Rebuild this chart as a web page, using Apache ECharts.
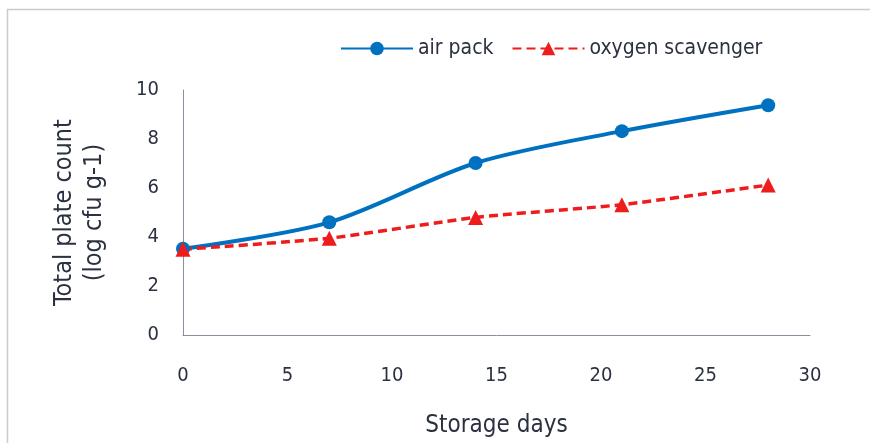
<!DOCTYPE html>
<html><head><meta charset="utf-8">
<script src="https://cdn.jsdelivr.net/npm/echarts@6/dist/echarts.min.js"></script>
<style>html,body{margin:0;padding:0;background:#fff}#c{width:870px;height:443px}</style>
</head><body><div id="c"></div>
<script>
const days = [0, 7, 14, 21, 28];
const airPack = [3.52, 4.6, 7.02, 8.32, 9.38];
const oxygenScavenger = [3.5, 3.95, 4.8, 5.32, 6.12];
const seriesNames = ['air pack', 'oxygen scavenger'];
const xTitle = 'Storage days';
const yTitle = 'Total plate count\n(log cfu g-1)';

const font = '"DejaVu Sans Condensed", "Open Sans", sans-serif';
const txt = '#2b3140';
const chart = echarts.init(document.getElementById('c'), null, {renderer: 'canvas'});
chart.setOption({
  animation: false,
  backgroundColor: '#fff',
  graphic: [{type: 'rect', shape: {x: 7.5, y: 9.5, width: 900, height: 500}, style: {fill: 'none', stroke: '#c8cbd0', lineWidth: 1.5}}],
  legend: {
    top: 33, left: 335, itemGap: 18, itemWidth: 72, itemHeight: 17,
    textStyle: {fontFamily: font, fontSize: 21, color: txt},
    data: seriesNames
  },
  grid: {left: 183, right: 60, top: 90, bottom: 102},
  xAxis: {
    type: 'value', min: 0, max: 30, interval: 5,
    name: xTitle, nameLocation: 'middle', nameGap: 79,
    nameTextStyle: {fontFamily: font, fontSize: 24, color: txt},
    axisLine: {lineStyle: {color: '#8a8fa0', width: 1}},
    axisTick: {show: false}, splitLine: {show: false},
    axisLabel: {fontFamily: font, fontSize: 20, color: txt, margin: 31}
  },
  yAxis: {
    type: 'value', min: 0, max: 10, interval: 2,
    name: yTitle, nameLocation: 'middle', nameGap: 74, nameRotate: 90,
    nameTextStyle: {fontFamily: font, fontSize: 25, color: txt, lineHeight: 30},
    axisLine: {show: true, lineStyle: {color: '#8a8fa0', width: 1}},
    axisTick: {show: false}, splitLine: {show: false},
    axisLabel: {fontFamily: font, fontSize: 20, color: txt, margin: 24}
  },
  series: [
    {name: seriesNames[0], type: 'line', smooth: 0.3, data: days.map((d, i) => [d, airPack[i]]),
     symbol: 'circle', symbolSize: 14, itemStyle: {color: '#0070C0'}, lineStyle: {color: '#0070C0', width: 4}},
    {name: seriesNames[1], type: 'line', smooth: 0.2, data: days.map((d, i) => [d, oxygenScavenger[i]]),
     symbol: 'triangle', symbolSize: 15, itemStyle: {color: '#EE1C1C'}, lineStyle: {color: '#EE1C1C', width: 3.5, type: [9, 5]}}
  ]
});
</script></body></html>
